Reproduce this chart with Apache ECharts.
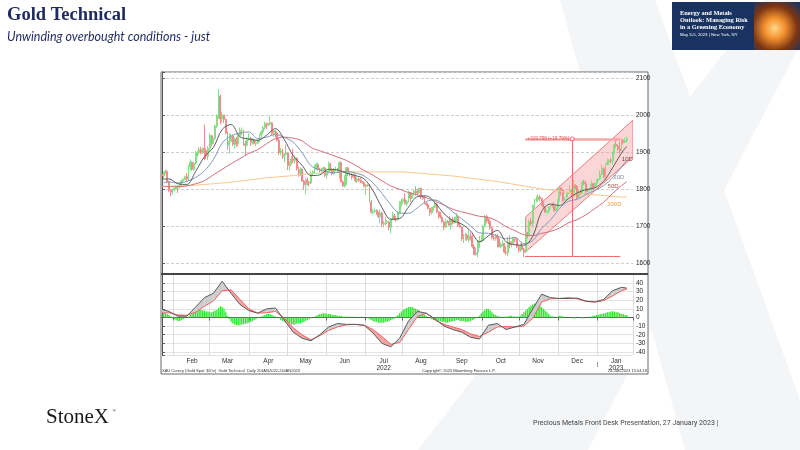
<!DOCTYPE html>
<html><head><meta charset="utf-8">
<script src="https://cdn.jsdelivr.net/npm/echarts@6/dist/echarts.min.js"></script>
<style>html,body{margin:0;padding:0;background:#fff}#c{width:800px;height:450px}</style>
</head><body><div id="c"></div>
<script>
// ---- daily XAU bars (trading days from 21-Jan-2022 to 24-Jan-2023) ----
const opens = [1840,1835,1843,1848,1819,1797,1791,1797,1801,1807,
1805,1808,1821,1826,1833,1827,1859,1872,1853,1870,
1898,1898,1906,1898,1910,1903,1889,1909,1944,1922,
1936,1970,1998,2050,1989,2000,1988,1951,1918,1928,
1943,1921,1935,1921,1944,1958,1958,1922,1918,1933,
1937,1925,1933,1923,1925,1931,1945,1954,1966,1977,
1973,1975,1979,1950,1958,1951,1931,1898,1904,1886,
1894,1897,1863,1869,1881,1877,1883,1855,1838,1853,
1821,1811,1824,1818,1816,1842,1846,1853,1866,1853,
1851,1853,1856,1837,1848,1869,1851,1841,1852,1853,
1848,1871,1819,1808,1834,1857,1840,1839,1832,1838,
1822,1827,1823,1820,1817,1807,1811,1809,1764,1737,
1739,1742,1732,1725,1735,1705,1708,1709,1711,1696,
1718,1727,1719,1717,1735,1755,1766,1772,1760,1765,
1791,1775,1789,1794,1792,1789,1802,1779,1775,1761,
1758,1747,1736,1748,1751,1758,1738,1724,1723,1711,
1697,1712,1710,1702,1718,1708,1716,1724,1702,1697,
1665,1675,1675,1664,1673,1671,1644,1622,1629,1660,
1660,1661,1699,1725,1716,1713,1695,1668,1666,1673,
1666,1644,1650,1652,1629,1627,1657,1649,1652,1665,
1663,1645,1633,1647,1636,1629,1681,1676,1712,1706,
1755,1771,1771,1778,1774,1761,1751,1738,1740,1750,
1755,1754,1741,1749,1768,1803,1797,1769,1771,1787,
1789,1797,1781,1810,1807,1777,1792,1787,1818,1814,
1792,1797,1798,1814,1804,1815,1824,1827,1839,1855,
1833,1865,1872,1877,1876,1897,1920,1916,1908,1904,
1932,1926,1931];
const closes = [1835,1843,1848,1819,1797,1791,1797,1801,1807,1805,
1808,1821,1826,1833,1827,1859,1872,1853,1870,1898,
1898,1906,1898,1910,1903,1889,1909,1944,1922,1936,
1970,1998,2050,1989,2000,1988,1951,1918,1928,1943,
1921,1935,1921,1944,1958,1958,1922,1918,1933,1937,
1925,1933,1923,1925,1931,1945,1954,1966,1977,1973,
1975,1979,1950,1958,1951,1931,1898,1904,1886,1894,
1897,1863,1869,1881,1877,1883,1855,1838,1853,1821,
1811,1824,1818,1816,1842,1846,1853,1866,1853,1851,
1853,1856,1837,1848,1869,1851,1841,1852,1853,1848,
1871,1819,1808,1834,1857,1840,1839,1832,1838,1822,
1827,1823,1820,1817,1807,1811,1809,1764,1737,1739,
1742,1732,1725,1735,1705,1708,1709,1711,1696,1718,
1727,1719,1717,1735,1755,1766,1772,1760,1765,1791,
1775,1789,1794,1792,1789,1802,1779,1775,1761,1758,
1747,1736,1748,1751,1758,1738,1724,1723,1711,1697,
1712,1710,1702,1718,1708,1716,1724,1702,1697,1665,
1675,1675,1664,1673,1671,1644,1622,1629,1660,1660,
1661,1699,1725,1716,1713,1695,1668,1666,1673,1666,
1644,1650,1652,1629,1627,1657,1649,1652,1665,1663,
1645,1633,1647,1636,1629,1681,1676,1712,1706,1755,
1771,1771,1778,1774,1761,1751,1738,1740,1750,1755,
1754,1741,1749,1768,1803,1797,1769,1771,1787,1789,
1797,1781,1810,1807,1777,1792,1787,1818,1814,1792,
1797,1798,1814,1804,1815,1824,1827,1839,1855,1833,
1865,1872,1877,1876,1897,1920,1916,1908,1904,1932,
1926,1931,1936];
const highs = [1848,1847,1853,1850,1822,1800,1801,1807,1810,1810,
1815,1824,1829,1836,1843,1865,1880,1874,1873,1902,
1903,1913,1914,1913,1974,1910,1916,1950,1946,1938,
1974,2002,2070,2055,2009,2000,1990,1955,1950,1949,
1947,1939,1940,1947,1966,1966,1960,1930,1940,1950,
1940,1937,1936,1930,1936,1949,1958,1970,1982,1979,
1978,1998,1981,1960,1960,1955,1937,1911,1908,1897,
1920,1898,1875,1888,1909,1890,1885,1860,1858,1856,
1825,1829,1831,1822,1849,1850,1865,1870,1870,1857,
1858,1859,1860,1850,1874,1871,1855,1856,1860,1857,
1875,1874,1823,1837,1860,1859,1845,1842,1847,1840,
1831,1830,1829,1821,1820,1813,1812,1812,1770,1745,
1747,1745,1738,1744,1738,1714,1723,1716,1714,1722,
1739,1733,1726,1740,1767,1773,1775,1788,1770,1795,
1792,1791,1798,1807,1800,1802,1803,1783,1780,1765,
1762,1748,1751,1754,1765,1762,1740,1738,1728,1714,
1720,1716,1726,1720,1724,1725,1735,1729,1710,1699,
1678,1681,1679,1688,1682,1676,1651,1642,1662,1673,
1675,1703,1729,1730,1722,1717,1697,1675,1678,1679,
1671,1655,1661,1654,1645,1670,1675,1659,1670,1669,
1667,1648,1652,1658,1641,1684,1683,1716,1722,1758,
1774,1781,1786,1783,1776,1767,1754,1744,1754,1757,
1760,1764,1755,1772,1805,1804,1799,1777,1789,1792,
1810,1799,1824,1813,1810,1797,1798,1822,1824,1823,
1802,1801,1823,1816,1819,1826,1829,1850,1865,1858,
1869,1881,1880,1883,1901,1922,1931,1920,1928,1936,
1934,1938,1942];
const lows = [1830,1827,1840,1815,1792,1780,1785,1793,1797,1789,
1800,1806,1816,1823,1819,1823,1851,1849,1849,1866,
1887,1892,1894,1894,1878,1881,1878,1900,1915,1921,
1932,1965,1990,1975,1980,1978,1947,1906,1895,1926,
1916,1909,1914,1915,1940,1945,1917,1890,1915,1930,
1916,1920,1920,1915,1920,1926,1939,1948,1961,1962,
1970,1972,1945,1940,1939,1928,1891,1891,1881,1872,
1890,1851,1850,1865,1870,1868,1850,1833,1835,1819,
1798,1787,1810,1807,1813,1835,1842,1850,1850,1844,
1845,1849,1832,1828,1842,1848,1837,1838,1848,1843,
1826,1818,1805,1804,1811,1835,1834,1826,1828,1818,
1816,1819,1816,1814,1804,1784,1806,1763,1734,1732,
1735,1730,1722,1707,1697,1696,1701,1705,1689,1680,
1715,1715,1711,1715,1731,1752,1759,1758,1754,1763,
1764,1773,1783,1782,1783,1787,1773,1771,1758,1753,
1745,1728,1731,1740,1748,1734,1720,1720,1709,1688,
1694,1707,1700,1691,1704,1707,1712,1697,1695,1659,
1654,1660,1660,1655,1660,1639,1621,1620,1615,1641,
1654,1660,1695,1707,1704,1690,1665,1660,1660,1642,
1642,1640,1645,1626,1621,1618,1639,1642,1651,1656,
1640,1628,1630,1634,1616,1628,1666,1672,1701,1700,
1749,1764,1765,1766,1754,1748,1735,1734,1733,1746,
1750,1739,1740,1745,1766,1782,1765,1767,1768,1777,
1786,1778,1779,1799,1773,1774,1784,1786,1810,1784,
1791,1795,1796,1800,1801,1809,1822,1825,1839,1829,
1825,1865,1864,1870,1866,1895,1912,1904,1896,1902,
1920,1924,1926];

// ---- indicator values read at sample trading days ----
const sampleDays = [0,4,9,14,19,24,29,34,39,44,49,54,59,64,69,74,79,84,89,94,99,104,109,114,119,124,129,134,139,144,149,154,159,164,169,174,179,184,189,194,199,204,209,214,219,224,229,234,239,244,249,254,259,262];
const ma10 = [1826,1827,1814,1812,1847,1887,1912,1961,1974,1941,1935,1931,1945,1963,1933,1890,1864,1836,1838,1853,1851,1843,1836,1827,1795,1750,1718,1720,1751,1779,1781,1762,1733,1714,1705,1686,1657,1673,1688,1657,1649,1648,1672,1739,1759,1755,1773,1789,1798,1803,1821,1857,1897,1915];
const ma20 = [1816,1819,1816,1820,1831,1849,1879,1924,1943,1951,1954,1936,1940,1947,1939,1926,1898,1863,1851,1845,1844,1848,1843,1835,1816,1788,1757,1735,1734,1749,1766,1770,1757,1738,1719,1700,1681,1680,1673,1665,1669,1652,1660,1693,1716,1747,1766,1772,1785,1796,1809,1830,1859,1878];
const ma50 = [1808,1806,1806,1808,1814,1822,1838,1853,1868,1882,1896,1906,1922,1936,1940,1937,1930,1912,1903,1895,1886,1877,1864,1850,1837,1822,1808,1799,1790,1784,1776,1767,1756,1745,1738,1732,1726,1723,1713,1698,1687,1676,1674,1680,1685,1694,1708,1717,1730,1747,1764,1788,1809,1819];
const ma200 = [1806,1807,1808,1809,1810,1812,1814,1816,1818,1821,1824,1827,1830,1832,1834,1836,1839,1841,1843,1844,1845,1846,1846,1846,1846,1846,1846,1846,1845,1843,1841,1839,1837,1835,1832,1829,1826,1823,1820,1816,1812,1808,1804,1800,1797,1794,1791,1788,1786,1784,1782,1780,1778,1778];
const macd = [9.3,7,1.5,1.5,12,23,28,42,28,15,8,5,10,11,-3,-17,-24,-27,-20,-11,-7,-8,-8,-9,-18,-30,-34,-24,-4,7,5,-2,-10,-14,-17,-23,-25,-9,-7,-14,-11,-8,10,27,23,22,22,22.5,19,18,21,31,35,34];
const signal = [5.4,5.4,3,2.5,6,13,19,31,32,21,10,5,5.5,7,-1,-12,-20,-26,-21,-15,-11,-8.5,-8,-9,-14,-22,-31,-29,-14,1,5,-3,-8,-11,-14,-19,-22,-17,-11,-10.5,-11,-10,-1,18,21.7,22,23,21.7,18.6,17.8,19.5,25,31,33];
const histogram = [4,5,5,4,3, 1,-1,-2,-3, -4,-4,-3,-2,-1,0, 1,3,5,6,7, 8,9,9,8,8, 7,7,6,6,7, 8,9,11,13,12, 10,6, 2,-2,-5,
-7,-8,-9,-9,-9,-8,-8,-7,-7,-6, -5,-4,-3,-2,-1, 0,1,2,3,4,4,4,3,2,1, 0,-1,-3,-4,-5,
-6,-7,-7,-8,-8,-8,-7,-7,-7,-6, -5,-4,-3,-2,-1, 0,1,2,3,4, 4,5,5,4,4,4,3,3,3,2, 2,2,1,1,1,
1,0,1,0,1,0,0,1,0,0, 0,-1,-2,-3,-4, -5,-5,-6,-6,-6,-6,-5,-5,-4,-3, -2,-1,1,3,5, 7,9,10,11,12,
12,12,11,10,9, 8,6,5,3,2, 0,-1,-2,-3,-3, -4,-4,-4,-5,-5,-6,-6,-5,-5,-4,-4,-3,-3,-4,-4,
-4,-5,-5,-5,-4,-3,-2,-1,0,2, 5,7,9,10,10, 8,6,4,3,2, 1,1,0,1,1, 1,2,2,1,1, 1,1,2,4,6,
8,10,12,14,15, 16,17,16,14,12, 10,8,6,4,2, 1,1,0,1,2, 2,1,1,0,0, 0,-1,-1,-1,0, 0,-1,-1,0,0,
0,1,1,2,2, 3,3,4,4,5, 5,6,6,7,7, 7,6,6,5,4, 4,3,3];

// ---- drawn trend channel and measurement ----
const channelDays = [205, 265.5];
const channelUpper = [1724, 1986];
const channelLower = [1630, 1886];
const measureDays = [204.7, 258.3];
const measureDay = 231.2;
const measureTop = 1935, measureBottom = 1619;
const measureText = '+319.798 (+19.79%)';
const maLabels = ['10D','20D','50D','200D'];
const maLabelDays = [262.3, 257.5, 254.3, 255];
const maLabelPrices = [1881, 1832, 1808, 1757];

// ---- categories ----
const dates = [];
(function(){ let t = Date.UTC(2022,0,21); while (dates.length < 266) { const d = new Date(t); const w = d.getUTCDay(); if (w!==0 && w!==6) dates.push(d.toISOString().slice(0,10)); t += 86400000; } })();
const MON = ['Jan','Feb','Mar','Apr','May','Jun','Jul','Aug','Sep','Oct','Nov','Dec'];
const ym = s => s.slice(0,7), dd = s => +s.slice(8,10);
const isMonthStart = i => i>0 && ym(dates[i]) !== ym(dates[i-1]);
const isMid = i => i>0 && dd(dates[i])>=15 && dd(dates[i-1])<15 && ym(dates[i]) !== '2022-01';

const candle = opens.map((o,i)=>[o, closes[i], lows[i], highs[i]]);
const pts = arr => sampleDays.map((d,k)=>[d, arr[k]]);

const AX = "'Liberation Sans', Arial, sans-serif";
const chart = echarts.init(document.getElementById('c'), null, {renderer:'canvas'});
const SM = 0.35;

function bandItem(params, api){
  const k = params.dataIndex;
  if (k >= sampleDays.length-1) return null;
  const d0 = sampleDays[k], d1 = sampleDays[k+1];
  const a0 = macd[k]-signal[k], a1 = macd[k+1]-signal[k+1];
  const P = (d,v)=>api.coord([d,v]);
  const kids = [];
  const poly = (p, up) => kids.push({type:'polygon', shape:{points:p}, style:{fill: up ? '#cdcdcd' : '#f5a3a3', stroke:null}});
  if (a0*a1 >= 0) {
    poly([P(d0,macd[k]),P(d1,macd[k+1]),P(d1,signal[k+1]),P(d0,signal[k])], (a0+a1)>=0);
  } else {
    const t = a0/(a0-a1), dc = d0 + t*(d1-d0), vc = macd[k] + t*(macd[k+1]-macd[k]);
    poly([P(d0,macd[k]),P(dc,vc),P(d0,signal[k])], a0>0);
    poly([P(dc,vc),P(d1,macd[k+1]),P(d1,signal[k+1])], a1>0);
  }
  return {type:'group', children:kids};
}

const option = {
  animation:false,
  backgroundColor:'#ffffff',
  grid:[{left:161,right:167,top:72,height:202},{left:161,right:167,top:274,height:81}],
  xAxis:[
    {type:'category', gridIndex:0, data:dates, boundaryGap:true, show:false},
    {type:'value', gridIndex:0, min:-0.5, max:265.5, show:false},
    {type:'category', gridIndex:1, data:dates, boundaryGap:true, position:'bottom',
      axisLine:{show:true, lineStyle:{color:'#555'}},
      axisTick:{show:true, length:3, interval:(i)=>isMonthStart(i), lineStyle:{color:'#666'}},
      splitLine:{show:true, interval:(i)=>isMonthStart(i), lineStyle:{color:'#dcdcdc', width:1}},
      axisLabel:{show:true, interval:(i)=>isMid(i), fontSize:6.5, lineHeight:7, color:'#333', margin:3, fontFamily:AX,
        formatter:(v)=>{ const m=+v.slice(5,7)-1, y=v.slice(0,4); if (m===6 && y==='2022') return 'Jul\n2022'; if (m===0) return 'Jan\n'+y; return MON[m]; }}},
    {type:'value', gridIndex:1, min:-0.5, max:265.5, show:false}
  ],
  yAxis:[
    {type:'value', gridIndex:0, position:'right', min:1570, max:2116, splitNumber:5,
      axisLine:{show:true, lineStyle:{color:'#555'}}, axisTick:{show:true, length:3, lineStyle:{color:'#555'}},
      axisLabel:{fontSize:6.5, color:'#222', margin:3, fontFamily:AX, formatter:(v)=> (Math.round(v)%100===0 && v>=1600 && v<=2100) ? String(Math.round(v)) : ''},
      splitLine:{show:true, lineStyle:{color:'#cfcfcf', type:[3,2], width:1}}},
    {type:'value', gridIndex:1, position:'right', min:-43.5, max:50.4, splitNumber:9,
      axisLine:{show:true, lineStyle:{color:'#555'}}, axisTick:{show:true, length:3, lineStyle:{color:'#555'}},
      axisLabel:{fontSize:6.5, color:'#222', margin:3, fontFamily:AX, formatter:(v)=>{ const r=Math.round(v); return (Math.abs(v-r)<1e-6 && r%10===0 && r>=-40 && r<=40) ? String(r) : ''; }},
      splitLine:{show:true, lineStyle:{color:'#e3e3e3', width:1}}}
  ],
  series:[
    {type:'custom', xAxisIndex:1, yAxisIndex:0, z:1, clip:true, data:[0], silent:true,
      renderItem:(params, api)=>{
        const p1 = api.coord([channelDays[0], channelUpper[0]]), p2 = api.coord([channelDays[1], channelUpper[1]]);
        const p3 = api.coord([channelDays[1], channelLower[1]]), p4 = api.coord([channelDays[0], channelLower[0]]);
        return {type:'polygon', shape:{points:[p1,p2,p3,p4]}, style:{fill:'rgba(242,120,120,0.30)', stroke:'#f07878', lineWidth:1}};
      }},
    {type:'candlestick', xAxisIndex:0, yAxisIndex:0, z:2, data:candle, barWidth:1.4, silent:true,
      itemStyle:{color:'#86de86', color0:'#f28c8c', borderColor:'#86de86', borderColor0:'#f28c8c', borderWidth:1}},
    {type:'line', name:'200D', xAxisIndex:1, yAxisIndex:0, z:3, data:pts(ma200), smooth:SM, symbol:'none', lineStyle:{color:'#f9c68a', width:1}},
    {type:'line', name:'50D', xAxisIndex:1, yAxisIndex:0, z:3, data:pts(ma50), smooth:SM, symbol:'none', lineStyle:{color:'#d4707f', width:1}},
    {type:'line', name:'20D', xAxisIndex:1, yAxisIndex:0, z:3, data:pts(ma20), smooth:SM, symbol:'none', lineStyle:{color:'#8099b8', width:1}},
    {type:'line', name:'10D', xAxisIndex:1, yAxisIndex:0, z:4, data:pts(ma10), smooth:SM, symbol:'none', lineStyle:{color:'#5c5c5c', width:1},
      markLine:{silent:true, symbol:['none','none'], animation:false, label:{show:false}, lineStyle:{type:'solid', color:'#f06a6a', width:1},
        data:[
          [{coord:[measureDays[0], measureTop], lineStyle:{color:'#f6a8a8', width:2.5, type:'solid'}}, {coord:[measureDays[1], measureTop]}],
          [{coord:[measureDays[0], measureBottom]}, {coord:[measureDays[1], measureBottom]}],
          [{coord:[measureDay, measureBottom]}, {coord:[measureDay, measureTop]}]
        ]},
      markPoint:{silent:true, animation:false, symbol:'circle', symbolSize:1, itemStyle:{color:'rgba(0,0,0,0)'},
        data: maLabels.map((t,k)=>({coord:[maLabelDays[k], maLabelPrices[k]], label:{show:true, position:'inside', formatter:t, fontSize:6, fontFamily:AX,
            color:['#7a3a3a','#8a8f99','#a8564c','#f0a040'][k]}}))
          .concat([
            {coord:[measureDays[0]+0.5, measureTop], label:{show:true, position:'right', distance:1, formatter:measureText, fontSize:4.6, fontFamily:AX, color:'#e05050'}},
            {coord:[measureDay, measureTop], symbolSize:4, itemStyle:{color:'#fff', borderColor:'#e05050', borderWidth:0.8}, label:{show:false}}
          ])}},
    {type:'bar', xAxisIndex:2, yAxisIndex:1, z:2, data:histogram, barWidth:1.4, itemStyle:{color:'#33e633'}, silent:true},
    {type:'custom', xAxisIndex:3, yAxisIndex:1, z:3, clip:true, silent:true,
      data: sampleDays.map((d,k)=>[d, macd[k], signal[k]]), encode:{x:0, y:[1,2]}, renderItem:bandItem},
    {type:'line', xAxisIndex:3, yAxisIndex:1, z:4, data:pts(signal), smooth:false, symbol:'none', lineStyle:{color:'#f26262', width:1}, silent:true},
    {type:'line', xAxisIndex:3, yAxisIndex:1, z:4, data:pts(macd), smooth:false, symbol:'none', lineStyle:{color:'#5a5a5a', width:1}, silent:true}
  ],
  graphic:{elements:[
    {type:'polygon', z:-20, silent:true, shape:{points:[[560,0],[655,0],[800,400],[800,450],[685,450]]}, style:{fill:'#f4f5f7'}},
    {type:'polygon', z:-20, silent:true, shape:{points:[[765,0],[800,0],[800,45],[588,450],[418,450]]}, style:{fill:'#f4f5f7'}},
    {type:'rect', z:-10, silent:true, shape:{x:161,y:72,width:487,height:302}, style:{fill:'#ffffff', stroke:'#6a6a6a', lineWidth:1}},
    {type:'line', z:50, silent:true, shape:{x1:161,y1:274,x2:648,y2:274}, style:{stroke:'#444', lineWidth:2}},
    {type:'line', z:50, silent:true, shape:{x1:597.5,y1:362,x2:597.5,y2:367}, style:{stroke:'#999', lineWidth:1}},
    {type:'text', z:50, silent:true, style:{x:162, y:370.5, text:'XAU Curncy (Gold Spot  $/Oz)  Gold Technical  Daily 20JAN2022-24JAN2023', font:"4px 'Liberation Sans'", fill:'#333', textVerticalAlign:'middle'}},
    {type:'text', z:50, silent:true, style:{x:422, y:370.5, text:'Copyright\u00a9 2023 Bloomberg Finance L.P.', font:"4px 'Liberation Sans'", fill:'#333', textVerticalAlign:'middle'}},
    {type:'text', z:50, silent:true, style:{x:647, y:370.5, text:'24-Jan-2023 15:04:18', font:"4px 'Liberation Sans'", fill:'#333', textAlign:'right', textVerticalAlign:'middle'}},
    {type:'text', z:50, silent:true, style:{x:7, y:15.5, text:'Gold Technical', font:"bold 18.5px 'Liberation Serif'", fill:'#1f2a5e', textVerticalAlign:'middle'}},
    {type:'text', z:50, silent:true, style:{x:7, y:36.5, text:'Unwinding overbought conditions - just', font:"italic 12.5px Lato", fill:'#1f2a5e', textVerticalAlign:'middle'}},
    {type:'rect', z:40, silent:true, shape:{x:672,y:2,width:128,height:48}, style:{fill:'#183360'}},
    {type:'rect', z:41, silent:true, shape:{x:754,y:2,width:46,height:48}, style:{fill:{type:'radial', x:0.45, y:0.55, r:0.75, colorStops:[{offset:0,color:'#ffd88a'},{offset:0.3,color:'#f2902e'},{offset:0.65,color:'#7c3512'},{offset:1,color:'#183360'}]}}},
    {type:'text', z:45, silent:true, style:{x:680, y:13, text:'Energy and Metals', font:"bold 6.4px 'Liberation Serif'", fill:'#ffffff', textVerticalAlign:'middle'}},
    {type:'text', z:45, silent:true, style:{x:680, y:20, text:'Outlook: Managing Risk', font:"bold 6.4px 'Liberation Serif'", fill:'#ffffff', textVerticalAlign:'middle'}},
    {type:'text', z:45, silent:true, style:{x:680, y:27, text:'in a Greening Economy', font:"bold 6.4px 'Liberation Serif'", fill:'#ffffff', textVerticalAlign:'middle'}},
    {type:'text', z:45, silent:true, style:{x:680, y:34.5, text:'May 3-5, 2023 | New York, NY', font:"4.3px 'Liberation Sans'", fill:'#ffffff', textVerticalAlign:'middle'}},
    {type:'text', z:50, silent:true, style:{x:46, y:417, text:'StoneX', font:"21px 'Liberation Serif'", fill:'#1a1a1a', textVerticalAlign:'middle'}},
    {type:'text', z:50, silent:true, style:{x:112.5, y:411, text:'\u00ae', font:"5px 'Liberation Serif'", fill:'#1a1a1a', textVerticalAlign:'middle'}},
    {type:'text', z:50, silent:true, style:{x:533, y:423.5, text:'Precious Metals Front Desk Presentation, 27 January 2023 |', font:"7px Roboto", fill:'#444', textVerticalAlign:'middle'}}
  ]}
};
chart.setOption(option);
</script>
</body></html>
